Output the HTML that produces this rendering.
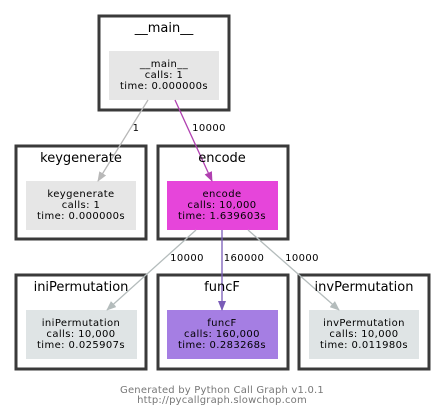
<!DOCTYPE html><html><head><style>body{margin:0;background:#fff}svg{display:block}text{font-family:"DejaVu Sans","Liberation Sans",sans-serif}</style></head><body>
<svg width="445" height="417" xmlns="http://www.w3.org/2000/svg">
<defs>
<marker id="g" markerWidth="10" markerHeight="8" refX="9" refY="4" orient="auto" markerUnits="userSpaceOnUse"><path d="M0,0L10,4L0,8z" fill="#b8b8b8"/></marker>
<marker id="p" markerWidth="10" markerHeight="8" refX="9" refY="4" orient="auto" markerUnits="userSpaceOnUse"><path d="M0,0L10,4L0,8z" fill="#b040b0"/></marker>
<marker id="v" markerWidth="10" markerHeight="8" refX="9" refY="4" orient="auto" markerUnits="userSpaceOnUse"><path d="M0,0L10,4L0,8z" fill="#7a5cb8"/></marker>
<marker id="s" markerWidth="10" markerHeight="8" refX="9" refY="4" orient="auto" markerUnits="userSpaceOnUse"><path d="M0,0L10,4L0,8z" fill="#b4bcbc"/></marker>
</defs>
<g fill="#fff" stroke="#3a3a3a" stroke-width="3">
<rect x="99" y="16" width="130" height="94"/>
<rect x="16" y="146" width="130" height="93"/>
<rect x="158" y="146" width="130" height="93"/>
<rect x="16" y="275" width="130" height="94"/>
<rect x="158" y="275" width="130" height="94"/>
<rect x="299" y="275" width="130" height="94"/>
</g>
<rect x="109" y="51" width="110" height="49" fill="#e6e6e6"/>
<rect x="26" y="181" width="110" height="49" fill="#e6e6e6"/>
<rect x="167" y="181" width="111" height="49" fill="#e645da"/>
<rect x="26" y="310" width="111" height="49" fill="#dfe4e5"/>
<rect x="167" y="310" width="111" height="49" fill="#a57ee3"/>
<rect x="309" y="310" width="110" height="49" fill="#dfe4e5"/>
<g stroke-width="1.3" fill="none">
<line x1="148" y1="100" x2="98" y2="181" stroke="#b8b8b8" marker-end="url(#g)"/>
<line x1="175" y1="100" x2="212" y2="181" stroke="#b040b0" marker-end="url(#p)"/>
<line x1="196" y1="230" x2="107" y2="310" stroke="#b4bcbc" marker-end="url(#s)"/>
<line x1="222" y1="230" x2="222" y2="310" stroke="#7a5cb8" marker-end="url(#v)"/>
<line x1="248" y1="230" x2="339" y2="310" stroke="#b4bcbc" marker-end="url(#s)"/>
</g>
<g font-size="13" text-anchor="middle" fill="#000">
<text x="164" y="32">__main__</text>
<text x="81" y="162">keygenerate</text>
<text x="222" y="162">encode</text>
<text x="81" y="291">iniPermutation</text>
<text x="222" y="291">funcF</text>
<text x="364" y="291">invPermutation</text>
</g>
<g font-size="10" letter-spacing="0.4" text-anchor="middle" fill="#000">
<text x="164" y="67">__main__</text><text x="164" y="78">calls: 1</text><text x="164" y="89">time: 0.000000s</text>
<text x="81" y="197">keygenerate</text><text x="81" y="208">calls: 1</text><text x="81" y="219">time: 0.000000s</text>
<text x="222" y="197">encode</text><text x="222" y="208">calls: 10,000</text><text x="222" y="219">time: 1.639603s</text>
<text x="81" y="326">iniPermutation</text><text x="81" y="337">calls: 10,000</text><text x="81" y="348">time: 0.025907s</text>
<text x="222" y="326">funcF</text><text x="222" y="337">calls: 160,000</text><text x="222" y="348">time: 0.283268s</text>
<text x="364" y="326">invPermutation</text><text x="364" y="337">calls: 10,000</text><text x="364" y="348">time: 0.011980s</text>
<text x="136" y="131">1</text><text x="209" y="131">10000</text>
<text x="187" y="261">10000</text><text x="244" y="261">160000</text><text x="302" y="261">10000</text>
</g>
<g font-size="10" letter-spacing="0.2" text-anchor="middle" fill="#777">
<text x="222" y="393">Generated by Python Call Graph v1.0.1</text>
<text x="222" y="403">http://pycallgraph.slowchop.com</text>
</g>
</svg></body></html>
